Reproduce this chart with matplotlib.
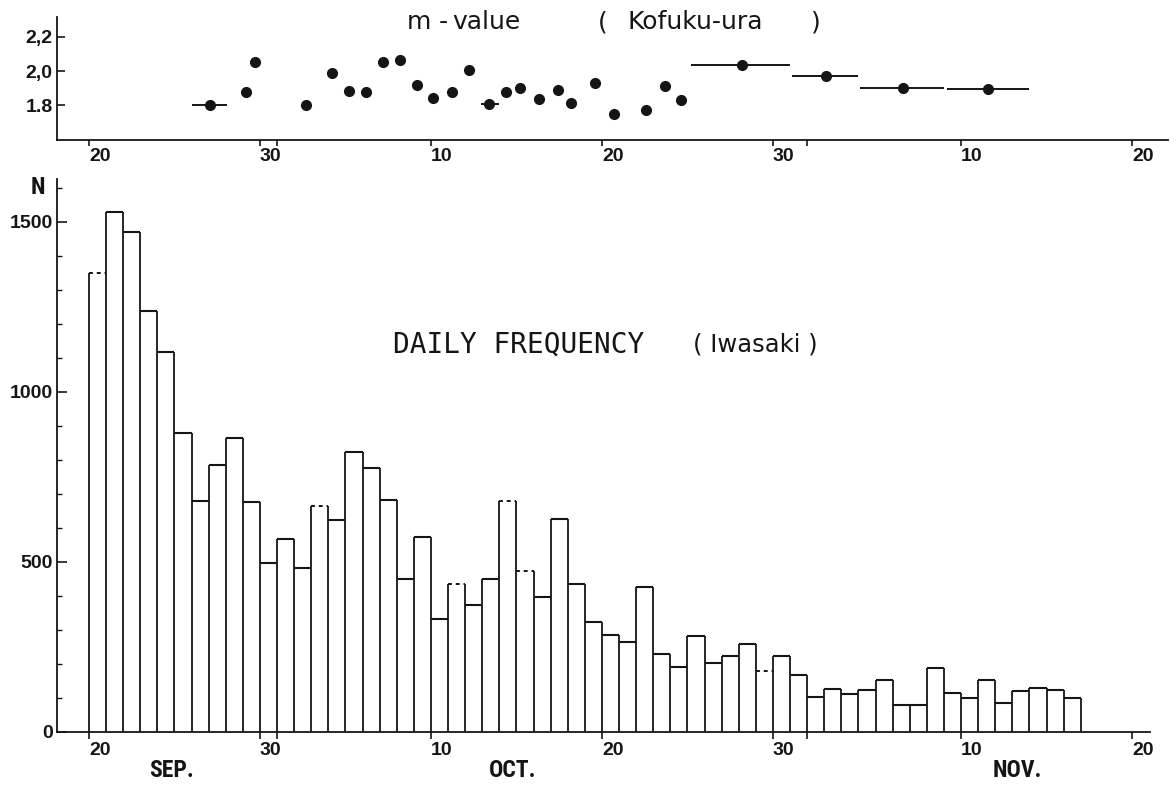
import matplotlib
matplotlib.use('Agg')
import matplotlib.pyplot as plt
import numpy as np
from matplotlib.ticker import FixedLocator, MultipleLocator

INK = '#151515'
plt.rcParams.update({'font.family': ['Liberation Sans', 'DejaVu Sans'],
                     'axes.edgecolor': INK, 'xtick.color': INK, 'ytick.color': INK,
                     'text.color': INK})
NARROW = ['Roboto Condensed', 'DejaVu Sans']

# daily counts at Iwasaki, one bar per day starting 20 Sep (day 0)
counts = [1350, 1530, 1470, 1238, 1116, 880, 679, 785, 864, 677,
          496, 567, 481, 665, 622, 822, 777, 682, 450, 574,
          331, 434, 373, 450, 679, 474, 398, 625, 434, 322,
          284, 264, 425, 230, 191, 281, 204, 222, 259, 180,
          224, 168, 104, 126, 113, 124, 154, 79, 79, 189,
          114, 99, 153, 86, 121, 130, 124, 101]
dashed_days = [0, 13, 21, 24, 25, 39]   # bars with broken top line

# m-value at Kofuku-ura (x in days after 20 Sep)
m_day = [7.05, 9.2, 9.7, 12.7, 14.2, 15.2, 16.2, 17.2, 18.2, 19.2, 20.1, 21.2,
         22.2, 23.4, 24.4, 25.2, 26.3, 27.4, 28.2, 29.6, 30.7, 32.6, 33.7, 34.6,
         38.2, 43.1, 47.6, 52.6]
m_val = [1.80, 1.88, 2.05, 1.80, 1.99, 1.885, 1.875, 2.05, 2.065, 1.92, 1.84, 1.88,
         2.005, 1.81, 1.88, 1.90, 1.835, 1.89, 1.815, 1.93, 1.75, 1.775, 1.915, 1.83,
         2.035, 1.97, 1.90, 1.895]
# periods covered by the pooled estimates
span_val = [1.80, 1.81, 2.035, 1.97, 1.90, 1.895]
span_from = [6.05, 22.9, 35.2, 41.1, 45.1, 50.2]
span_to = [8.1, 24.0, 41.0, 45.0, 50.0, 55.0]

# date axis
tick_days = [0, 10, 20, 30, 40, 51, 61]
tick_labels = ['20', '30', '10', '20', '30', '10', '20']
minor_days = [11, 42]          # 1 Oct, 1 Nov
months = ['SEP.', 'OCT.', 'NOV.']
month_days = [4.8, 24.8, 54.3]

W, H = 1176, 792
fig = plt.figure(figsize=(W / 100, H / 100), dpi=100)
fig.patch.set_facecolor('white')

def frac(x0, y0, x1, y1):
    return [x0 / W, 1 - y1 / H, (x1 - x0) / W, (y1 - y0) / H]

# ── bottom: daily frequency ────────────────────────
ax = fig.add_axes(frac(57, 179, 1150, 732))
n = len(counts)
days = np.arange(n)
ax.bar(days, counts, width=1.0, align='edge', color='white', linewidth=0)
edges = np.arange(n + 1)
edge_h = [counts[0]] + [max(counts[i - 1], counts[i]) for i in range(1, n)] + [counts[-1]]
ax.vlines(edges, 0, edge_h, colors=INK, linewidth=1.3)
solid = [i for i in range(n) if i not in dashed_days]
ax.hlines([counts[i] for i in solid], solid, [i + 1 for i in solid],
          colors=INK, linewidth=1.5)
ax.hlines([counts[i] for i in dashed_days], dashed_days, [i + 1 for i in dashed_days],
          colors=INK, linewidth=1.4, linestyles=(0, (2.0, 2.0)))

ax.set_xlim(-1.87, 62.05)
ax.set_ylim(0, 1626)
for s in ['top', 'right']:
    ax.spines[s].set_visible(False)
for s in ['left', 'bottom']:
    ax.spines[s].set_linewidth(1.3)
ax.yaxis.set_major_locator(FixedLocator([0, 500, 1000, 1500]))
ax.yaxis.set_minor_locator(MultipleLocator(100))
ax.tick_params(axis='y', which='major', direction='in', length=7.5, width=1.2,
               pad=3, labelsize=14)
ax.tick_params(axis='y', which='minor', direction='in', length=3.5, width=1.0)
for t in ax.get_yticklabels():
    t.set_fontweight('bold')
ax.set_xticks(tick_days)
ax.set_xticklabels(tick_labels, ha='left', fontweight='bold', fontsize=14)
ax.set_xticks(minor_days, minor=True)
ax.tick_params(axis='x', which='both', direction='out', length=5, width=1.2, pad=2)
ax.text(-2.98, 1600, 'N', fontsize=17, fontweight='bold', ha='center', va='center',
        family=NARROW, fontstretch='condensed')
for m, d in zip(months, month_days):
    ax.text(d, -112, m, ha='center', va='center', fontsize=17, fontweight='bold',
            family=NARROW, fontstretch='condensed')
ax.text(17.8, 1140, 'DAILY FREQUENCY', ha='left', va='center', fontsize=20,
        family=['DejaVu Sans Mono'])
ax.text(35.3, 1140, '( Iwasaki )', ha='left', va='center', fontsize=17.5,
        family=['DejaVu Sans'])

# ── top: m-value ──────────────────────────────────
ax2 = fig.add_axes(frac(57, 17, 1168, 139.6))
ax2.hlines(span_val, span_from, span_to, colors=INK, linewidth=1.4)
ax2.plot(m_day, m_val, 'o', color=INK, markersize=7, linestyle='none')
ax2.set_xlim(-1.87, 63.1)
ax2.set_ylim(1.6, 2.315)
for s in ['top', 'right']:
    ax2.spines[s].set_visible(False)
for s in ['left', 'bottom']:
    ax2.spines[s].set_linewidth(1.3)
ax2.set_yticks([1.8, 2.0, 2.2])
ax2.set_yticklabels(['1.8', '2,0', '2,2'], fontweight='bold', fontsize=14)
ax2.tick_params(axis='y', direction='in', length=6, width=1.2, pad=3)
ax2.set_xticks(tick_days)
ax2.set_xticklabels(tick_labels, ha='left', fontweight='bold', fontsize=14)
ax2.set_xticks(minor_days, minor=True)
ax2.tick_params(axis='x', which='both', direction='out', length=4, width=1.2, pad=2)
TITLE = dict(va='center', fontsize=18, family=['DejaVu Sans'])
ax2.text(18.6, 2.285, 'm', ha='left', **TITLE)
ax2.text(20.7, 2.285, '-', ha='center', **TITLE)
ax2.text(21.25, 2.285, 'value', ha='left', **TITLE)
ax2.text(29.75, 2.285, '(', ha='left', **TITLE)
ax2.text(31.5, 2.285, 'Kofuku-ura', ha='left', **TITLE)
ax2.text(42.2, 2.285, ')', ha='left', **TITLE)

fig.savefig('out.png', dpi=100, facecolor='white')
